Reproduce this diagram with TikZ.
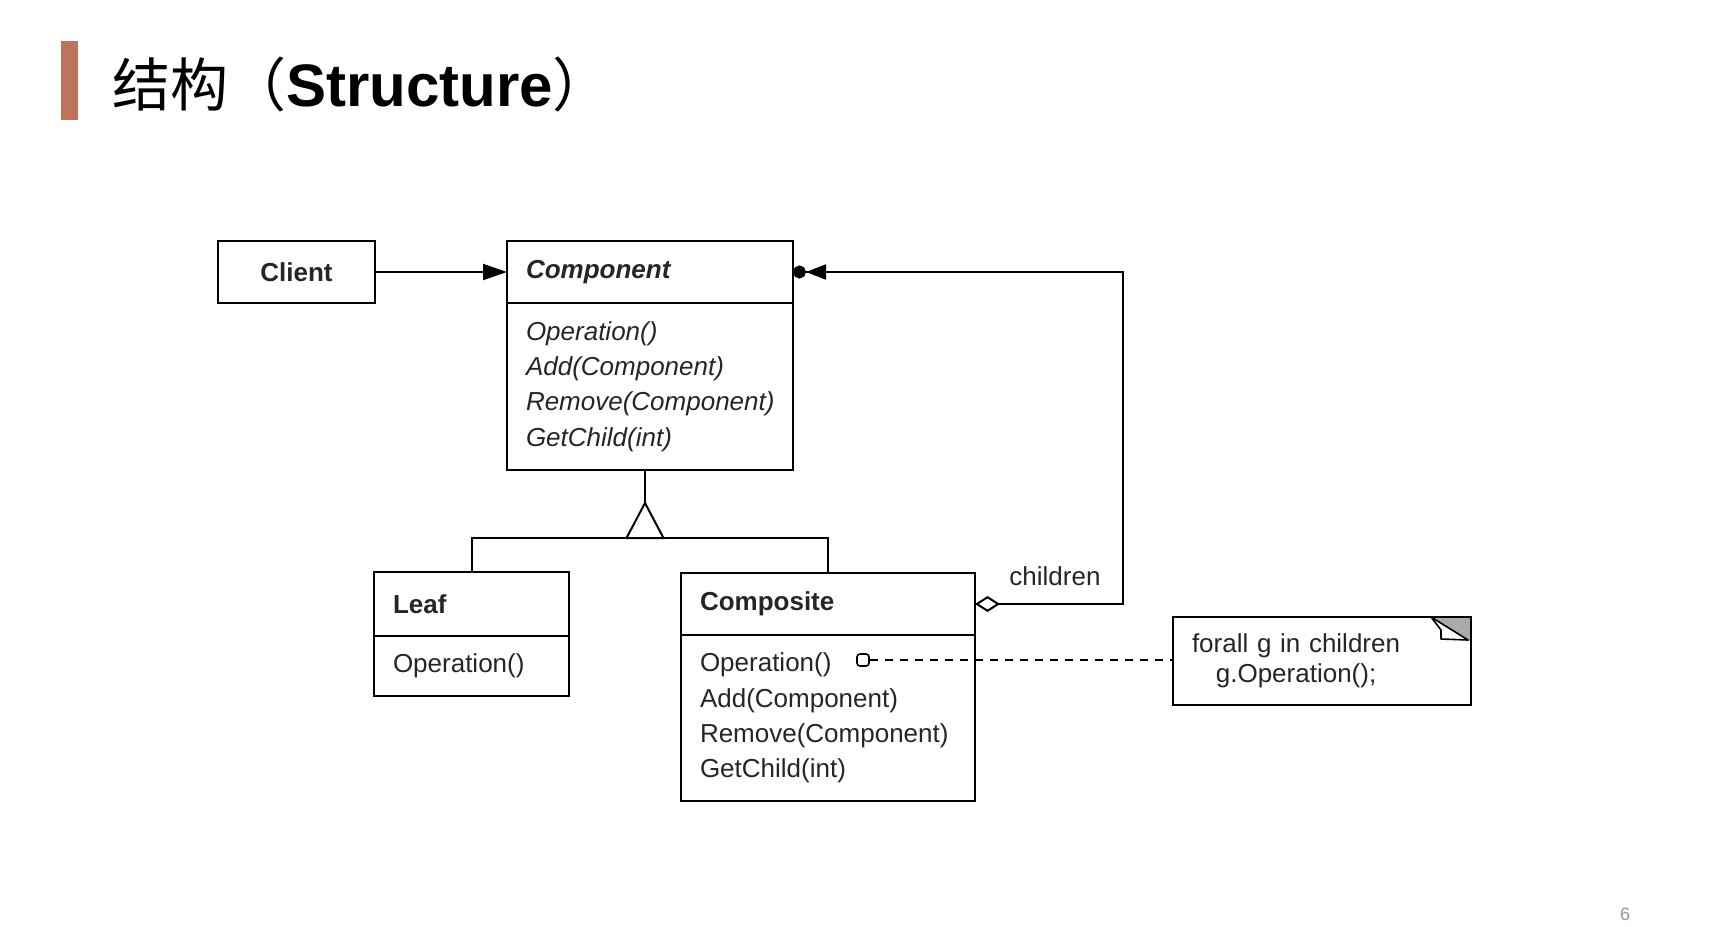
\documentclass[tikz,border=0pt]{standalone}
\usepackage{fontspec}
\setmainfont{Liberation Sans}
\newfontfamily\cjkfont{Noto Sans CJK SC}
\usetikzlibrary{arrows.meta,positioning}
\definecolor{titlebar}{RGB}{191,115,90}
\definecolor{foldgray}{RGB}{170,170,170}
\newcommand{\umlfont}{\fontsize{13}{17.6}\selectfont}

\begin{document}
\begin{tikzpicture}[x=0.5pt, y=-0.5pt, line width=1pt, node distance=0pt,
    box/.style={draw, line width=1pt, outer sep=0pt, inner ysep=0pt, text=black!85, font=\umlfont},
    classpart/.style={box, inner xsep=9.5pt, align=left},
    headline/.style={font=\umlfont\bfseries}]
  \path[fill=white, use as bounding box] (0,0) rectangle (1722,926);

  % title
  \node[fill=titlebar, anchor=north west, minimum width=8.5pt, minimum height=39.5pt, inner sep=0pt] (bar) at (60,40) {};
  \node[anchor=base west, inner sep=0pt, font=\fontsize{29}{34}\selectfont] (title) at (111,106)
    {{\cjkfont 结构（}{\fontsize{30}{34}\selectfont\textbf{Structure}}{\cjkfont ）}};

  % classes
  \node[box, headline, minimum width=78.5pt, minimum height=31pt] (client) at (296.5,272) {Client};
  \node[classpart, headline, anchor=north west, text width=124pt, minimum height=31pt] (comphead) at (507,241) {\itshape Component};
  \node[classpart, below=of comphead, text width=124pt, minimum height=83.5pt] (compbody)
    {\itshape Operation()\\\itshape Add(Component)\\\itshape Remove(Component)\\\itshape GetChild(int)};
  \node[classpart, headline, anchor=north west, text width=78.5pt, minimum height=32pt] (leafhead) at (374,572) {Leaf};
  \node[classpart, below=of leafhead, text width=78.5pt, minimum height=30pt] (leafbody) {Operation()};
  \node[classpart, headline, anchor=north west, text width=128pt, minimum height=31pt] (cmphead) at (681,573) {Composite};
  \node[classpart, below=of cmphead, text width=128pt, minimum height=83pt] (cmpbody)
    {Operation()\\Add(Component)\\Remove(Component)\\GetChild(int)};

  % note
  \node[classpart, anchor=north west, text width=130pt, minimum height=44pt] (note) at (1173,617)
    {\shortstack{forall g in children\\g.Operation();}};
  \fill[foldgray] (note.north east) -- ++(-40,0) -- ++(40,25) -- cycle;
  \draw[line width=0.8pt, fill=white, line join=round] (note.north east) ++(-40,0) -- ++(10,13) -- ++(0,9) -- ++(27,1) -- cycle;
  \draw (note.north east) -- ++(-40,0) (note.north east) -- ++(0,25);

  % connectors
  \coordinate (apex) at (645,503);
  \coordinate (joint) at (645,538);
  \coordinate (turn) at (1123,440);
  \draw[-{Triangle[length=12pt,width=8pt]}] (client) -- (comphead);
  \draw (compbody.south -| apex) -- (apex);
  \draw (leafhead.north) |- (joint) -| (cmphead.north);
  \draw[fill=white] (apex) -- ++(-18.5,35) -- ++(37,0) -- cycle;
  \draw[{Diamond[open,length=12.5pt,width=8pt]}-{Triangle[length=10pt,width=7.5pt] Circle[length=6.5pt]}]
    (cmphead.east) -| (turn) |- (comphead.east);
  \node[text=black!85, font=\umlfont] (children) at (1055,576) {children};
  \node[draw, rounded corners=1.5pt, minimum size=6pt, inner sep=0pt, line width=0.8pt] (opdot) at (863,660) {};
  \draw[dash pattern=on 4pt off 3.5pt] (opdot) -- (opdot -| note.west);

  \node[text=black!40, font=\fontsize{9}{10}\selectfont] (pagenum) at (1625,914) {6};
\end{tikzpicture}
\end{document}
